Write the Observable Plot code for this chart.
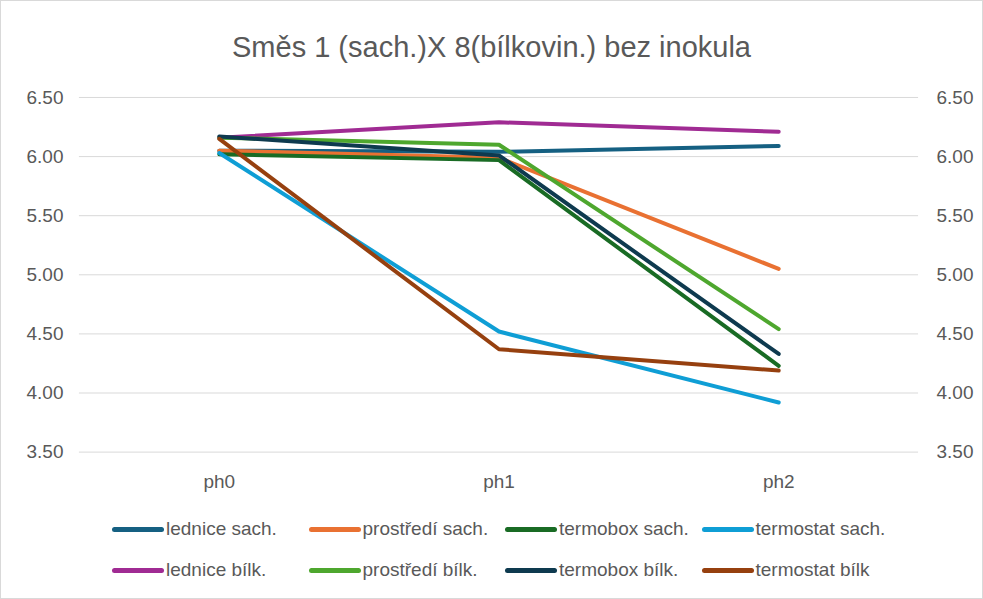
<!DOCTYPE html>
<html><head><meta charset="utf-8">
<script src="https://cdn.jsdelivr.net/npm/d3@7"></script>
<script src="https://cdn.jsdelivr.net/npm/@observablehq/plot@0.6"></script>
<style>
body{margin:0;background:#fff;}
#wrap{position:relative;width:981px;height:597px;border:1px solid #d9d9d9;font-family:"Liberation Sans",Arial,sans-serif;color:#595959;overflow:hidden;}
#title{position:absolute;top:29px;left:0;width:100%;text-align:center;font-size:29px;line-height:34px;}
#chart{position:absolute;top:69px;left:-1px;}
#legend{position:absolute;top:517px;left:111px;width:860px;display:grid;grid-template-columns:196.5px 196.5px 196.5px 260px;row-gap:19px;font-size:19px;line-height:22px;}
.li{display:flex;align-items:center;white-space:nowrap;}
.sw{width:52px;height:5px;border-radius:3px;margin-right:2px;flex:none;}
</style></head><body>
<div id="wrap"><div id="title">Směs 1 (sach.)X 8(bílkovin.) bez inokula</div><div id="chart"></div><div id="legend"></div></div>
<script>
const phases = ["ph0","ph1","ph2"];
const seriesNames = ["lednice sach.","prostředí sach.","termobox sach.","termostat sach.","lednice bílk.","prostředí bílk.","termobox bílk.","termostat bílk"];
const seriesColors = ["#156082","#E97132","#196B24","#0F9ED5","#A02B93","#4EA72E","#0E3A4F","#96400F"];
const ledniceSach = [6.05,6.04,6.09];
const prostrediSach = [6.05,5.99,5.05];
const termoboxSach = [6.02,5.97,4.23];
const termostatSach = [6.03,4.52,3.92];
const ledniceBilk = [6.16,6.29,6.21];
const prostrediBilk = [6.16,6.10,4.54];
const termoboxBilk = [6.17,6.01,4.33];
const termostatBilk = [6.15,4.37,4.19];
const yTicks = [3.5,4.0,4.5,5.0,5.5,6.0,6.5];

const allValues = [ledniceSach,prostrediSach,termoboxSach,termostatSach,ledniceBilk,prostrediBilk,termoboxBilk,termostatBilk];
const data = [];
allValues.forEach((vals,i)=>vals.forEach((v,j)=>data.push({series:seriesNames[i],phase:phases[j],value:v})));

const fmt = d3.format(".2f");
const chart = Plot.plot({
  width: 983, height: 430,
  marginTop: 27, marginBottom: 48, marginLeft: 79, marginRight: 64,
  style:{fontFamily:'"Liberation Sans",Arial,sans-serif',fontSize:"19px",color:"#595959",background:"transparent"},
  x:{type:"point",domain:phases,padding:0.5,label:null},
  y:{domain:[3.5,6.5],label:null},
  color:{domain:seriesNames,range:seriesColors},
  marks:[
    Plot.gridY(yTicks,{stroke:"#d9d9d9",strokeOpacity:1,strokeWidth:1}),
    Plot.axisY(yTicks,{anchor:"left",tickSize:0,tickPadding:16,tickFormat:fmt,label:null,fill:"#595959"}),
    Plot.axisY(yTicks,{anchor:"right",tickSize:0,tickPadding:18,tickFormat:fmt,label:null,textAnchor:"start",fill:"#595959"}),
    Plot.axisX({tickSize:0,tickPadding:22,label:null,fill:"#595959"}),
    Plot.line(data,{x:"phase",y:"value",z:"series",stroke:"series",strokeWidth:4,strokeLinecap:"round",strokeLinejoin:"round"})
  ]
});
document.getElementById("chart").appendChild(chart);
const lg = document.getElementById("legend");
seriesNames.forEach((n,i)=>{
  const d=document.createElement("div");d.className="li";
  d.innerHTML=`<span class="sw" style="background:${seriesColors[i]}"></span><span>${n}</span>`;
  lg.appendChild(d);
});
</script></body></html>
